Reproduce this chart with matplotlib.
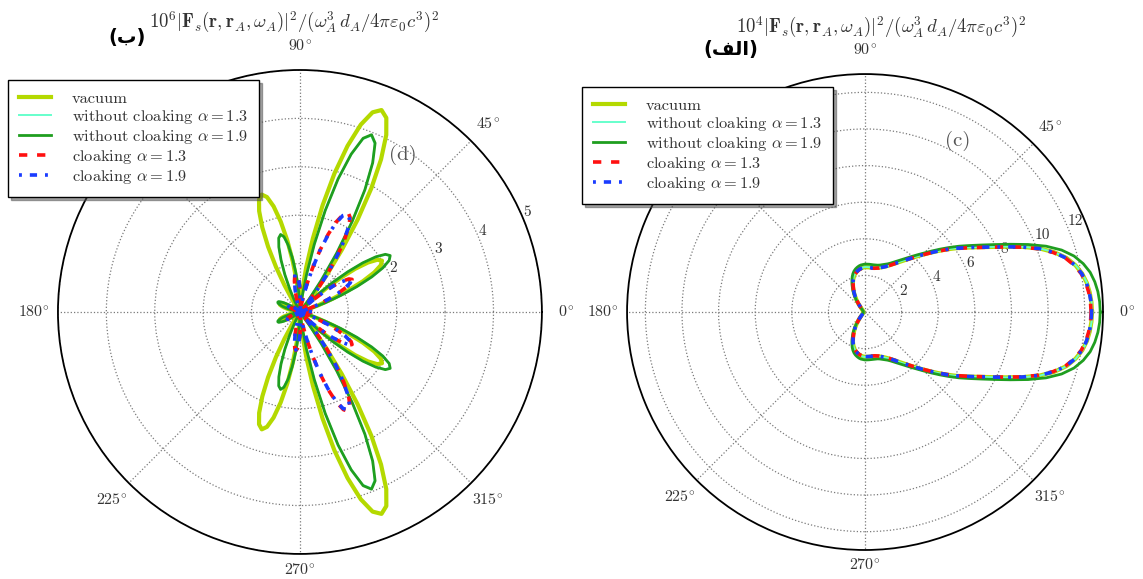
import numpy as np
import matplotlib

matplotlib.use("Agg")
import matplotlib.pyplot as plt

plt.rcParams.update({
    "font.family": "serif",
    "font.serif": ["cmr10", "DejaVu Serif"],
    "mathtext.fontset": "cm",
    "axes.unicode_minus": False,
    "axes.formatter.use_mathtext": True,
})

# ---- panel (d): upper half 0..180 deg, pattern symmetric about 0 deg ----
theta_d = np.arange(0, 181, 2)
vac_d = [0.15, 0.14, 0.11, 0.08, 0.04, 0.02, 0.02, 0.02, 0.02, 0.15,
         0.40, 0.73, 1.09, 1.45, 1.74, 1.93, 2.00, 1.93, 1.74, 1.45,
         1.09, 0.73, 0.40, 0.15, 0.02, 0.11, 0.43, 0.93, 1.55, 2.25,
         2.95, 3.57, 4.07, 4.39, 4.50, 4.39, 4.07, 3.57, 2.95, 2.25,
         1.55, 0.93, 0.43, 0.11, 0.02, 0.02, 0.08, 0.30, 0.64, 1.05,
         1.50, 1.91, 2.25, 2.47, 2.55, 2.47, 2.25, 1.91, 1.50, 1.05,
         0.64, 0.30, 0.08, 0.02, 0.02, 0.02, 0.02, 0.02, 0.02, 0.02,
         0.02, 0.02, 0.05, 0.11, 0.19, 0.26, 0.34, 0.40, 0.44, 0.45,
         0.44, 0.40, 0.34, 0.26, 0.19, 0.11, 0.05, 0.02, 0.02, 0.02,
         0.02]
woc13_d = [0.20, 0.19, 0.15, 0.10, 0.05, 0.02, 0.02, 0.02, 0.07, 0.26,
           0.55, 0.91, 1.29, 1.64, 1.93, 2.12, 2.19, 2.12, 1.93, 1.64,
           1.29, 0.91, 0.55, 0.26, 0.07, 0.02, 0.03, 0.30, 0.78, 1.43,
           2.15, 2.85, 3.42, 3.80, 3.93, 3.80, 3.42, 2.85, 2.15, 1.43,
           0.78, 0.30, 0.03, 0.02, 0.02, 0.06, 0.24, 0.51, 0.83, 1.14,
           1.40, 1.58, 1.64, 1.58, 1.40, 1.14, 0.83, 0.51, 0.24, 0.06,
           0.02, 0.02, 0.02, 0.02, 0.02, 0.02, 0.02, 0.02, 0.02, 0.02,
           0.02, 0.06, 0.12, 0.21, 0.29, 0.38, 0.44, 0.49, 0.50, 0.49,
           0.44, 0.38, 0.29, 0.21, 0.12, 0.06, 0.02, 0.02, 0.02, 0.02,
           0.02]
woc19_d = [0.20, 0.19, 0.15, 0.10, 0.05, 0.02, 0.02, 0.02, 0.07, 0.26,
           0.55, 0.91, 1.29, 1.65, 1.94, 2.13, 2.20, 2.13, 1.94, 1.65,
           1.29, 0.91, 0.55, 0.26, 0.07, 0.02, 0.03, 0.30, 0.78, 1.43,
           2.16, 2.86, 3.43, 3.82, 3.95, 3.82, 3.43, 2.86, 2.16, 1.43,
           0.78, 0.30, 0.03, 0.02, 0.02, 0.06, 0.24, 0.51, 0.83, 1.14,
           1.41, 1.59, 1.65, 1.59, 1.41, 1.14, 0.83, 0.51, 0.24, 0.06,
           0.02, 0.02, 0.02, 0.02, 0.02, 0.02, 0.02, 0.02, 0.02, 0.02,
           0.02, 0.06, 0.12, 0.21, 0.29, 0.38, 0.44, 0.49, 0.50, 0.49,
           0.44, 0.38, 0.29, 0.21, 0.12, 0.06, 0.02, 0.02, 0.02, 0.02,
           0.02]
cl13_d = [0.25, 0.23, 0.16, 0.09, 0.02, 0.02, 0.02, 0.02, 0.02, 0.05,
          0.19, 0.39, 0.64, 0.88, 1.08, 1.22, 1.27, 1.22, 1.08, 0.88,
          0.64, 0.39, 0.19, 0.05, 0.07, 0.27, 0.57, 0.94, 1.34, 1.71,
          2.01, 2.21, 2.28, 2.21, 2.01, 1.71, 1.34, 0.94, 0.57, 0.27,
          0.07, 0.02, 0.04, 0.15, 0.31, 0.49, 0.65, 0.76, 0.80, 0.76,
          0.65, 0.49, 0.31, 0.15, 0.04, 0.02, 0.02, 0.02, 0.02, 0.02,
          0.02, 0.02, 0.02, 0.02, 0.02, 0.02, 0.02, 0.02, 0.02, 0.04,
          0.09, 0.15, 0.21, 0.26, 0.29, 0.30, 0.29, 0.26, 0.21, 0.15,
          0.09, 0.04, 0.02, 0.02, 0.02, 0.02, 0.02, 0.02, 0.02, 0.02,
          0.02]
cl19_d = [0.24, 0.22, 0.16, 0.09, 0.02, 0.02, 0.02, 0.02, 0.02, 0.05,
          0.19, 0.38, 0.63, 0.87, 1.06, 1.20, 1.25, 1.20, 1.06, 0.87,
          0.63, 0.38, 0.19, 0.05, 0.07, 0.27, 0.56, 0.93, 1.32, 1.68,
          1.98, 2.18, 2.25, 2.18, 1.98, 1.68, 1.32, 0.93, 0.56, 0.27,
          0.07, 0.02, 0.04, 0.15, 0.30, 0.48, 0.64, 0.75, 0.79, 0.75,
          0.64, 0.48, 0.30, 0.15, 0.04, 0.02, 0.02, 0.02, 0.02, 0.02,
          0.02, 0.02, 0.02, 0.02, 0.02, 0.02, 0.02, 0.02, 0.02, 0.04,
          0.09, 0.15, 0.21, 0.26, 0.29, 0.30, 0.29, 0.26, 0.21, 0.15,
          0.09, 0.04, 0.02, 0.02, 0.02, 0.02, 0.02, 0.02, 0.02, 0.02,
          0.02]

# ---- panel (c): upper half 0..180 deg ----
theta_c = np.arange(0, 180.1, 2.5)
vac_c = [12.40, 12.38, 12.32, 12.22, 12.05, 11.78, 11.40, 10.85, 10.15, 9.30,
         8.45, 7.70, 7.08, 6.55, 6.08, 5.62, 5.18, 4.78, 4.42, 4.10,
         3.82, 3.57, 3.36, 3.17, 3.01, 2.87, 2.76, 2.67, 2.60, 2.54,
         2.50, 2.47, 2.45, 2.45, 2.45, 2.45, 2.45, 2.43, 2.40, 2.36,
         2.30, 2.23, 2.14, 2.03, 1.89, 1.73, 1.55, 1.37, 1.19, 1.00,
         0.81, 0.64, 0.50, 0.38, 0.30, 0.24, 0.20, 0.17, 0.15, 0.13,
         0.12, 0.11, 0.10, 0.10, 0.10, 0.10, 0.10, 0.10, 0.10, 0.10,
         0.10, 0.10, 0.10]
woc13_c = [12.41, 12.39, 12.33, 12.23, 12.06, 11.79, 11.41, 10.86, 10.16, 9.31,
           8.46, 7.71, 7.09, 6.56, 6.09, 5.63, 5.19, 4.79, 4.43, 4.11,
           3.83, 3.58, 3.37, 3.18, 3.02, 2.88, 2.77, 2.68, 2.61, 2.55,
           2.51, 2.48, 2.46, 2.46, 2.46, 2.46, 2.46, 2.44, 2.41, 2.37,
           2.31, 2.24, 2.15, 2.04, 1.90, 1.73, 1.55, 1.37, 1.19, 1.00,
           0.81, 0.64, 0.50, 0.38, 0.30, 0.24, 0.20, 0.17, 0.15, 0.13,
           0.12, 0.11, 0.10, 0.10, 0.10, 0.10, 0.10, 0.10, 0.10, 0.10,
           0.10, 0.10, 0.10]
woc19_c = [12.85, 12.83, 12.77, 12.66, 12.49, 12.21, 11.82, 11.26, 10.52, 9.64,
           8.76, 7.98, 7.32, 6.76, 6.27, 5.79, 5.34, 4.93, 4.56, 4.24,
           3.96, 3.71, 3.50, 3.31, 3.15, 3.01, 2.90, 2.82, 2.75, 2.69,
           2.65, 2.63, 2.62, 2.62, 2.62, 2.62, 2.62, 2.60, 2.58, 2.54,
           2.48, 2.41, 2.32, 2.20, 2.05, 1.87, 1.68, 1.49, 1.30, 1.09,
           0.88, 0.70, 0.55, 0.42, 0.32, 0.25, 0.20, 0.17, 0.15, 0.13,
           0.12, 0.11, 0.10, 0.10, 0.10, 0.10, 0.10, 0.10, 0.10, 0.10,
           0.10, 0.10, 0.10]
cl13_c = [12.35, 12.33, 12.27, 12.17, 12.00, 11.73, 11.35, 10.80, 10.10, 9.26,
          8.41, 7.67, 7.05, 6.52, 6.05, 5.60, 5.16, 4.76, 4.40, 4.08,
          3.80, 3.55, 3.34, 3.15, 2.99, 2.85, 2.74, 2.65, 2.58, 2.52,
          2.48, 2.45, 2.43, 2.43, 2.43, 2.43, 2.43, 2.41, 2.38, 2.34,
          2.28, 2.21, 2.12, 2.01, 1.87, 1.71, 1.53, 1.35, 1.17, 0.98,
          0.79, 0.62, 0.48, 0.37, 0.29, 0.23, 0.19, 0.16, 0.14, 0.12,
          0.11, 0.10, 0.10, 0.10, 0.10, 0.10, 0.10, 0.10, 0.10, 0.10,
          0.10, 0.10, 0.10]
cl19_c = [12.38, 12.36, 12.30, 12.20, 12.03, 11.76, 11.38, 10.83, 10.13, 9.28,
          8.43, 7.69, 7.07, 6.54, 6.07, 5.61, 5.17, 4.77, 4.41, 4.09,
          3.81, 3.56, 3.35, 3.16, 3.00, 2.86, 2.75, 2.66, 2.59, 2.53,
          2.49, 2.46, 2.44, 2.44, 2.44, 2.44, 2.44, 2.42, 2.39, 2.35,
          2.29, 2.22, 2.13, 2.02, 1.88, 1.72, 1.54, 1.36, 1.18, 0.99,
          0.80, 0.63, 0.49, 0.37, 0.29, 0.23, 0.19, 0.16, 0.14, 0.12,
          0.11, 0.10, 0.10, 0.10, 0.10, 0.10, 0.10, 0.10, 0.10, 0.10,
          0.10, 0.10, 0.10]

labels = [
    "vacuum",
    r"without cloaking $\alpha = 1.3$",
    r"without cloaking $\alpha = 1.9$",
    r"cloaking $\alpha = 1.3$",
    r"cloaking $\alpha = 1.9$",
]
styles = [
    dict(color="#b4d900", lw=3.0),
    dict(color="#66ffcc", lw=1.4),
    dict(color="#1f9e1f", lw=2.0),
    dict(color="#ff1010", lw=2.6, ls=(0, (2.3, 2.7))),
    dict(color="#1a3cff", lw=2.6, ls=(0, (0.8, 2.2, 2.0, 2.2))),
]
angle_labels = [r"$0^{\!\circ}$", r"$45^{\!\circ}$", r"$90^{\!\circ}$",
                r"$135^{\!\circ}$", r"$180^{\!\circ}$", r"$225^{\!\circ}$",
                r"$270^{\!\circ}$", r"$315^{\!\circ}$"]

TXT = "#333333"

fig = plt.figure(figsize=(11.43, 5.79), dpi=100)
axL = fig.add_axes([0.0507, 0.0432, 0.4234, 0.836], projection="polar")
axR = fig.add_axes([0.5486, 0.0501, 0.4164, 0.822], projection="polar")


def panel(ax, theta, curves, rmax, rticks):
    th = np.deg2rad(np.concatenate([theta, 360 - theta[::-1]]))
    for r, lab, st in zip(curves, labels, styles):
        r = np.asarray(r)
        ax.plot(th, np.concatenate([r, r[::-1]]), label=lab, **st)
    ax.set_ylim(0, rmax)
    ax.set_rgrids(rticks, labels=[str(t) for t in rticks], angle=22.5,
                  fontsize=11, color=TXT)
    ax.set_thetagrids(range(0, 360, 45), labels=[""] * 8)
    ax.grid(True, ls=":", color="#7a7a7a", lw=0.9)
    ax.spines["polar"].set_linewidth(1.3)
    for a, lab in zip(range(0, 360, 45), angle_labels):
        f = 1.065 if a == 270 else 1.1
        ax.text(np.deg2rad(a), rmax * f, lab, ha="center", va="center",
                fontsize=11.5, color=TXT, clip_on=False)


panel(axL, theta_d, [vac_d, woc13_d, woc19_d, cl13_d, cl19_d], 5, [1, 2, 3, 4, 5])
panel(axR, theta_c, [vac_c, woc13_c, woc19_c, cl13_c, cl19_c], 13,
      [2, 4, 6, 8, 10, 12])

for ax, anchor in [(axL, (0.007, 0.862)), (axR, (0.509, 0.850))]:
    leg = ax.legend(loc="upper left", bbox_to_anchor=anchor,
                    bbox_transform=fig.transFigure, borderaxespad=0,
                    fancybox=False, shadow=True, fontsize=11.8,
                    handlelength=1.95, handletextpad=1.25, labelspacing=0.12,
                    borderpad=0.7, framealpha=1)
    leg.get_frame().set_edgecolor("black")
    for t in leg.get_texts():
        t.set_color(TXT)

fig.text(0.3526, 0.732, "(d)", fontsize=15, color="#555555", ha="center", va="center")
fig.text(0.838, 0.757, "(c)", fontsize=15, color="#555555", ha="center", va="center")

title_fmt = (r"$10^{%d}|\mathbf{F}_s(\mathbf{r},\mathbf{r}_A,\omega_A)|^2"
             r"/(\omega_A^3\,d_A/4\pi\varepsilon_0 c^3)^2$")
fig.text(0.257, 0.962, title_fmt % 6, ha="center", va="center", fontsize=13.5, color=TXT)
fig.text(0.771, 0.953, title_fmt % 4, ha="center", va="center", fontsize=13.5, color=TXT)

fig.text(0.111, 0.936, "(\uFE8F)", family="DejaVu Sans", weight="bold",
         fontsize=14, ha="center", va="center")
fig.text(0.639, 0.914, "(\uFED2\uFEDF\uFE8D)", family="DejaVu Sans", weight="bold",
         fontsize=14, ha="center", va="center")

fig.savefig("out.png", dpi=100)
